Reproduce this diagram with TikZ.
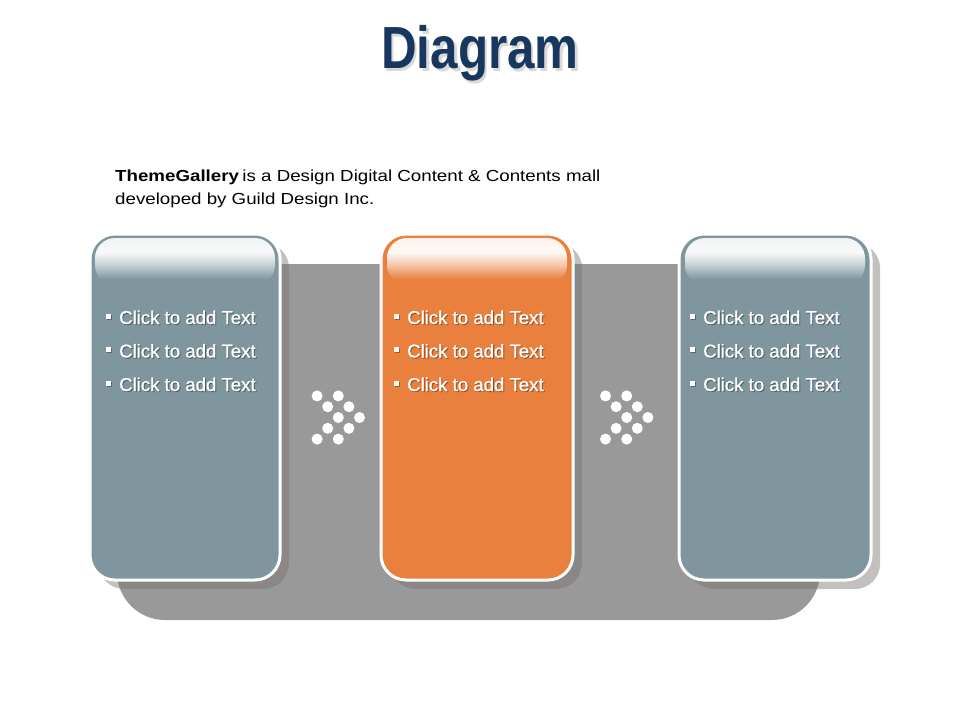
\documentclass[tikz,border=0pt]{standalone}
\usepackage{fontspec}
\setmainfont{Liberation Sans}
\newfontfamily\itemfont[FakeBold=0.8]{Liberation Sans}
\definecolor{boxblue}{RGB}{127,150,158}
\definecolor{boxorange}{RGB}{233,128,62}
\definecolor{backgray}{RGB}{153,153,153}
\definecolor{shadelight}{RGB}{196,192,192}
\definecolor{shadedark}{RGB}{139,135,135}
\definecolor{titleblue}{RGB}{23,55,94}
\pgfdeclareverticalshading{glossblue}{100bp}{color(0bp)=(boxblue); color(25bp)=(boxblue); color(31bp)=(boxblue); color(48bp)=(boxblue!40!white); color(60bp)=(white!94!boxblue); color(75bp)=(white!88!boxblue); color(100bp)=(white!88!boxblue)}
\pgfdeclareverticalshading{glossorange}{100bp}{color(0bp)=(boxorange); color(25bp)=(boxorange); color(31bp)=(boxorange); color(48bp)=(boxorange!40!white); color(60bp)=(white!95!boxorange); color(75bp)=(white!90!boxorange); color(100bp)=(white!90!boxorange)}
\begin{document}
\begin{tikzpicture}[x=1pt,y=-1pt,
  card/.style={draw=white, line width=3pt, rounded corners=25pt, minimum height=346pt, inner sep=0pt},
  item/.style={anchor=base west, inner sep=0pt, text=white, font=\itemfont\fontsize{18.6}{22}\selectfont},
  itemshadow/.style={anchor=base west, inner sep=0pt, text=black, opacity=0.3, font=\itemfont\fontsize{18.6}{22}\selectfont},
  dot/.style={circle, fill=white, minimum size=11pt, inner sep=0pt},
  gloss/.style={rounded corners=20pt}]
\fill[white] (0,0) rectangle (960,720);
\useasboundingbox (0,0) rectangle (960,720);
% title
\node[anchor=base, inner sep=0pt, text=black, opacity=0.15] at (482.5,71.5) {\scalebox{0.83}[1]{\fontsize{59.5}{70}\selectfont\bfseries Diagram}};
\node[anchor=base, inner sep=0pt, text=titleblue] (title) at (480,68.3) {\scalebox{0.83}[1]{\fontsize{59.5}{70}\selectfont\bfseries Diagram}};
% heading
\node[anchor=base west, inner sep=0pt] (h1) at (115,181) {\scalebox{1.17}[1]{\fontsize{16}{20}\selectfont\textbf{ThemeGallery}\hspace{-1.5pt} is a Design Digital Content \& Contents mall}};
\node[anchor=base west, inner sep=0pt] (h2) at (115,204) {\scalebox{1.17}[1]{\fontsize{16}{20}\selectfont developed by Guild Design Inc.}};
% backdrop
\fill[backgray] (117,264) -- (820,264) -- (820,572) .. controls (820,598.5) and (798.5,620) .. (772,620) -- (165,620) .. controls (138.5,620) and (117,598.5) .. (117,572) -- cycle;
% shadows (light, over white)
\fill[shadelight, rounded corners=25pt] (99,243) rectangle (289,589);
\fill[shadelight, rounded corners=25pt] (390,243) rectangle (582,589);
\fill[shadelight, rounded corners=25pt] (688,243) rectangle (880,589);
% shadows (dark, over backdrop)
\begin{scope}
\clip (117,264) -- (820,264) -- (820,572) .. controls (820,598.5) and (798.5,620) .. (772,620) -- (165,620) .. controls (138.5,620) and (117,598.5) .. (117,572) -- cycle;
\fill[shadedark, rounded corners=25pt] (99,243) rectangle (289,589);
\fill[shadedark, rounded corners=25pt] (390,243) rectangle (582,589);
\fill[shadedark, rounded corners=25pt] (688,243) rectangle (880,589);
\end{scope}
% cards
\node[card, fill=boxblue, minimum width=190pt] (b1) at (185,407) {};
\node[card, fill=boxorange, minimum width=192pt] (b2) at (477,407) {};
\node[card, fill=boxblue, minimum width=192pt] (b3) at (775,407) {};
% gloss
\shade[gloss, shading=glossblue] (95,238) rectangle (275,285);
\shade[gloss, shading=glossorange] (387,238) rectangle (567,285);
\shade[gloss, shading=glossblue] (685,238) rectangle (865,285);
% dots
\foreach \cx/\g in {338.3/a, 626.7/b}
  \foreach \dx/\dy [count=\k] in {-2/-2,0/-2,-1/-1,1/-1,0/0,2/0,-1/1,1/1,-2/2,0/2}
    \node[dot] (d\g\k) at ({\cx+\dx*10.6},{417.5+\dy*10.8}) {};
% texts
\foreach \n/\bx/\tx in {b1/105.5/119, b2/393.5/407, b3/689.5/703}
  \foreach \by [count=\i] in {324,357.5,391} {
    \fill[black, opacity=0.3] (\bx+1,\by-9.5) rectangle (\bx+6,\by-4.5);
    \fill[white] (\bx,\by-10.5) rectangle (\bx+5,\by-5.5);
    \node[itemshadow] at (\tx+1,\by+1) {Click to add Text};
    \node[item] (t\n\i) at (\tx,\by) {Click to add Text};
  }
\end{tikzpicture}
\end{document}
